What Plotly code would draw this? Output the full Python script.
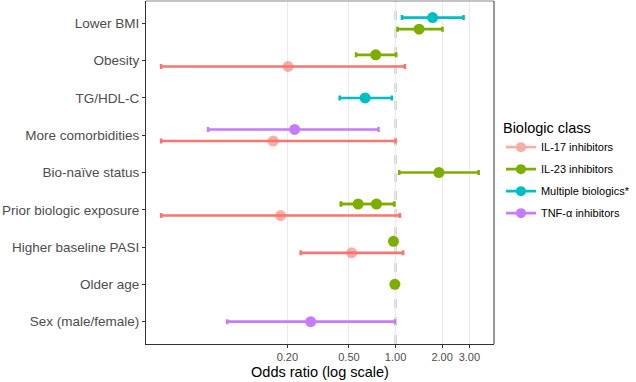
import plotly.graph_objects as go

# Factors, listed top to bottom
factors = ["Lower BMI", "Obesity", "TG/HDL-C", "More comorbidities", "Bio-naïve status",
           "Prior biologic exposure", "Higher baseline PASI", "Older age", "Sex (male/female)"]

groups = ["IL-17 inhibitors", "IL-23 inhibitors", "Multiple biologics*", "TNF-α inhibitors"]
colors = ["#F8766D", "#7CAE00", "#00BFC4", "#C77CFF"]

# IL-17 inhibitors
il17_factor = ["Obesity", "More comorbidities", "Prior biologic exposure", "Higher baseline PASI"]
il17_or = [0.202, 0.162, 0.181, 0.521]
il17_lo = [0.0306, 0.0306, 0.0306, 0.244]
il17_hi = [1.149, 1.00, 1.066, 1.12]

# IL-23 inhibitors
il23_factor = ["Lower BMI", "Obesity", "Bio-naïve status", "Prior biologic exposure",
               "Prior biologic exposure", "Higher baseline PASI", "Older age"]
il23_or = [1.42, 0.745, 1.906, 0.573, 0.753, 0.97, 0.99]
il23_lo = [1.03, 0.556, 1.056, 0.444, 0.444, 0.97, 0.99]
il23_hi = [2.01, 1.01, 3.44, 0.98, 0.98, 0.97, 0.99]

# Multiple biologics*
mult_factor = ["Lower BMI", "TG/HDL-C"]
mult_or = [1.735, 0.636]
mult_lo = [1.10, 0.436]
mult_hi = [2.75, 0.946]

# TNF-α inhibitors
tnf_factor = ["More comorbidities", "Sex (male/female)"]
tnf_or = [0.223, 0.283]
tnf_lo = [0.0616, 0.0818]
tnf_hi = [0.776, 0.99]

x_ticks = [0.2, 0.5, 1.0, 2.0, 3.0]
x_tick_labels = ["0.20", "0.50", "1.00", "2.00", "3.00"]

series = [
    (il17_factor, il17_or, il17_lo, il17_hi),
    (il23_factor, il23_or, il23_lo, il23_hi),
    (mult_factor, mult_or, mult_lo, mult_hi),
    (tnf_factor, tnf_or, tnf_lo, tnf_hi),
]

n = len(factors)
ypos = {f: n - 1 - i for i, f in enumerate(factors)}

# groups present per factor (for dodging)
present = {f: [] for f in factors}
for gi, (fs, *_r) in enumerate(series):
    for f in fs:
        if gi not in present[f]:
            present[f].append(gi)
DODGE = 0.155


def offset(f, gi):
    gs = sorted(present[f])
    k = len(gs)
    if k == 1:
        return 0.0
    idx = gs.index(gi)
    return (idx - (k - 1) / 2) * 2 * DODGE


fig = go.Figure()

# reference line at OR = 1
fig.add_shape(type="line", x0=1, x1=1, xref="x", y0=0, y1=1, yref="paper",
              line=dict(color="#8F8F8F", width=1.7, dash="dash"), layer="between")

for gi, (fs, ors, los, his) in enumerate(series):
    ys = [ypos[f] + offset(f, gi) for f in fs]
    fig.add_trace(go.Scatter(
        x=ors, y=ys, mode="markers", showlegend=False,
        marker=dict(color=colors[gi], size=11, opacity=0.6 if gi == 0 else 1.0),
        error_x=dict(type="data", symmetric=False,
                     array=[h - o for h, o in zip(his, ors)],
                     arrayminus=[o - l for o, l in zip(ors, los)],
                     color=colors[gi], thickness=2.6, width=2.5),
        hoverinfo="skip",
    ))
    # legend key
    fig.add_trace(go.Scatter(
        x=[None], y=[None], mode="lines+markers", name=groups[gi],
        legendgroup=groups[gi],
        line=dict(color=colors[gi], width=2.6),
        marker=dict(color=colors[gi], size=10),
        opacity=0.6 if gi == 0 else 1.0,
    ))

fig.update_layout(
    width=636, height=382,
    margin=dict(l=146, r=142, t=1, b=38, autoexpand=False),
    paper_bgcolor="white", plot_bgcolor="white",
    font=dict(family="Liberation Sans, Arial, sans-serif", color="#4D4D4D"),
    legend=dict(
        title=dict(text="Biologic class", font=dict(size=14.5, color="black")),
        font=dict(size=11, color="black"),
        x=1.02, xanchor="left", y=0.505, yanchor="middle",
        itemwidth=30, tracegroupgap=3, bgcolor="rgba(0,0,0,0)",
    ),
)

fig.update_xaxes(
    type="log", range=[-1.612, 0.636],
    tickvals=x_ticks, ticktext=x_tick_labels,
    tickfont=dict(size=11, color="#4D4D4D"),
    showgrid=True, gridcolor="#EBEBEB", gridwidth=1,
    showline=True, linecolor="#333333", linewidth=1,
    ticks="outside", ticklen=3, tickcolor="#333333",
    zeroline=False,
    title=dict(text="Odds ratio (log scale)", font=dict(size=14.5, color="black"), standoff=4),
)
fig.update_yaxes(
    range=[-0.6, n - 1 + 0.6],
    tickvals=[ypos[f] for f in factors], ticktext=factors,
    tickfont=dict(size=13.5, color="#4D4D4D"),
    showgrid=False, zeroline=False,
    showline=True, linecolor="#333333", linewidth=1,
    ticks="outside", ticklen=3, tickcolor="#333333",
)

# top and right panel border
fig.add_shape(type="line", xref="paper", yref="paper", x0=0, x1=1, y0=1, y1=1,
              line=dict(color="#888888", width=1))
fig.add_shape(type="line", xref="paper", yref="paper", x0=1, x1=1, y0=0, y1=1,
              line=dict(color="#333333", width=1))

fig.write_html("out.html")
